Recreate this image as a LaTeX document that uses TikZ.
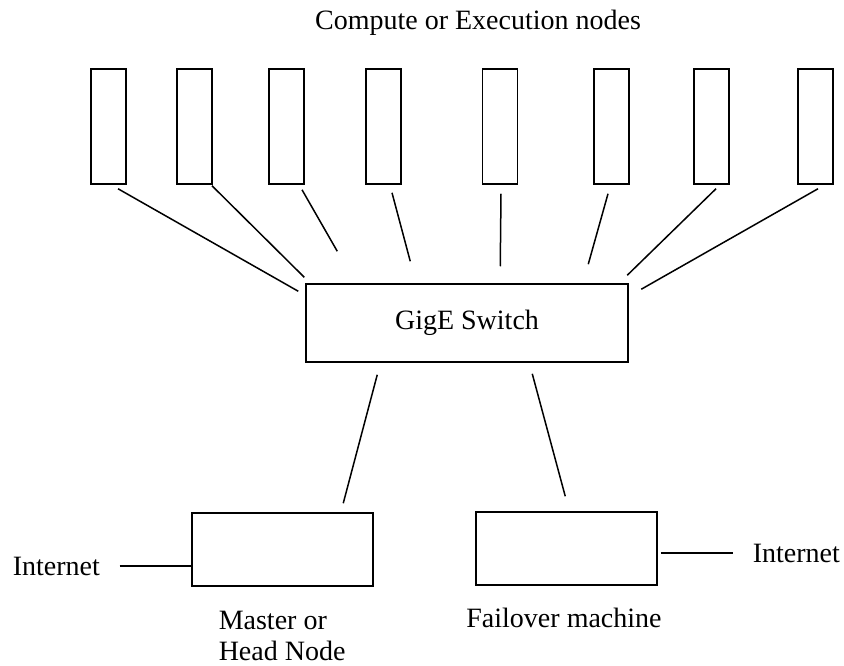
\documentclass[tikz,border=0pt]{standalone}
\usepackage{fontspec}
\setmainfont{Liberation Serif}
\usetikzlibrary{calc}

\tikzset{
  cnode/.style = {draw, line width=1.5pt, minimum width=35pt, minimum height=115pt, inner sep=0},
  bigbox/.style = {draw, line width=1.5pt, minimum width=181pt, minimum height=73pt, inner sep=0},
  lbl/.style = {inner sep=0}
}

\begin{document}
\begin{tikzpicture}[x=1pt, y=-1pt, line width=1.5pt, font=\fontsize{28}{31}\selectfont]
\useasboundingbox (0,0) rectangle (844,666);

\node[lbl, anchor=base] (title) at (478,30) {Compute or Execution nodes};

\foreach \x [count=\i] in {108.5,194.5,286.5,383.5,500,611.5,711.5,815.5}
   \node[cnode] (c\i) at (\x,126.5) {};

\node[draw, minimum width=322pt, minimum height=78pt, inner sep=0] (sw) at (467,323) {GigE Switch};

% compute nodes to the switch
\foreach \i/\sx/\sy/\ex/\ey in {1/9.5/4/-7/8, 2/17.5/1/-1/-6, 3/15.5/5/32/-32, 4/8.5/8/105/-22,
                                5/1/9/195/-17, 6/-3.5/9/283/-19, 7/4.5/4/322/-8, 8/2.5/4/336/6}
   \draw ($(c\i.south)+(\sx,\sy)$) -- ($(sw.north west)+(\ex,\ey)$);

\node[bigbox] (master) at (282.5,549.5) {};
\node[bigbox] (fail) at (566.5,548.5) {};

\draw ($(sw.south west)+(72,12)$) -- ($(master.north west)+(152,-9)$);
\draw ($(sw.south west)+(227,11)$) -- ($(fail.north west)+(90,-15)$);

\node[lbl, anchor=west] (inetL) at (12,566) {Internet};
\node[lbl, anchor=west] (inetR) at (752,553) {Internet};

\draw ([xshift=19pt]inetL.east) -- (inetL.east -| master.west);
\draw ([xshift=3pt]fail.east |- inetR.west) -- ([xshift=-19pt]inetR.west);

\node[lbl, anchor=base west, align=left] (mlabel) at (218,660) {Master or\\Head Node};
\node[lbl, anchor=base] (flabel) at (564,627) {Failover machine};
\end{tikzpicture}
\end{document}
